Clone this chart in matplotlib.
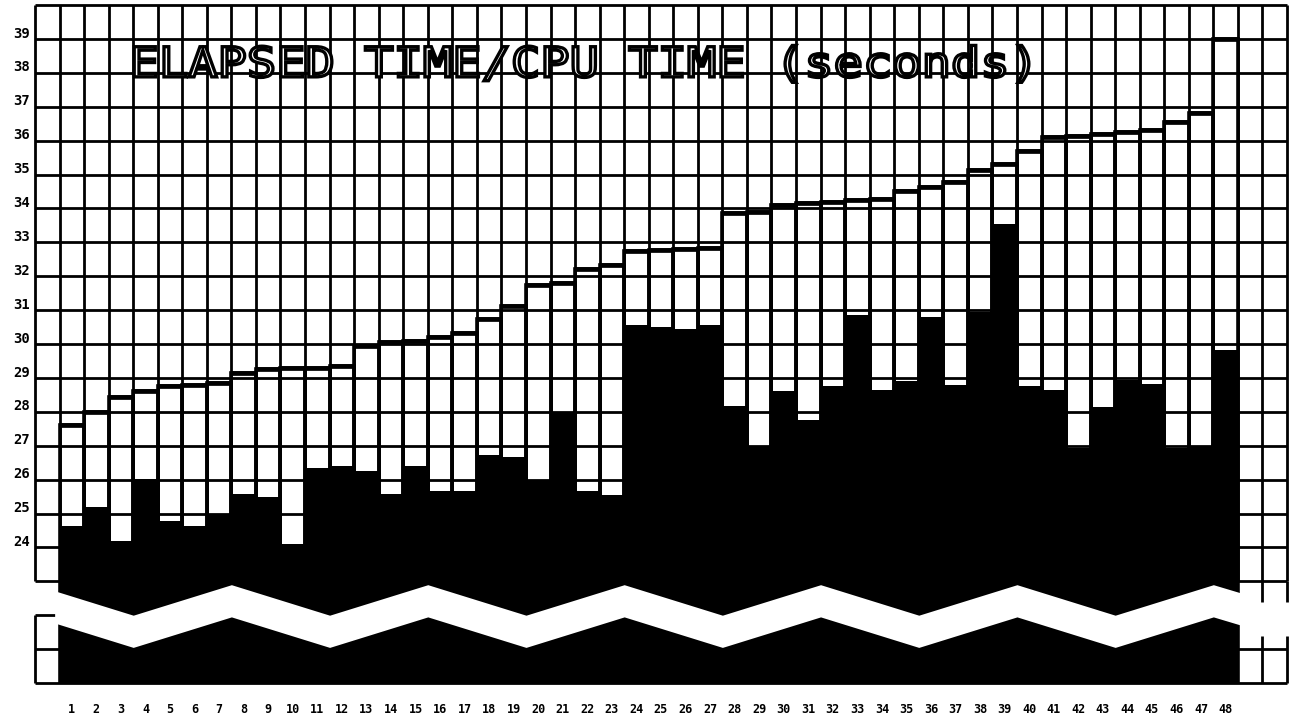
import numpy as np
import matplotlib
matplotlib.use("Agg")
import matplotlib.pyplot as plt
from matplotlib.textpath import TextPath
from matplotlib.patches import PathPatch
from matplotlib.font_manager import FontProperties
from matplotlib.transforms import Affine2D

# run number 1..48
runs = list(range(1, 49))

# elapsed time (top of each outlined bar), seconds
elapsed = [27.6, 28.0, 28.45, 28.6, 28.75, 28.78, 28.85, 29.15, 29.25, 29.28,
           29.3, 29.35, 29.95, 30.05, 30.1, 30.22, 30.33, 30.74, 31.12, 31.75,
           31.8, 32.2, 32.33, 32.75, 32.78, 32.8, 32.83, 33.85, 33.9, 34.1,
           34.15, 34.2, 34.25, 34.27, 34.5, 34.62, 34.77, 35.12, 35.3, 35.68,
           36.1, 36.15, 36.2, 36.25, 36.32, 36.55, 36.8, 39.0]

# cpu time (black fill), seconds
cpu = [24.62, 25.18, 24.18, 26.01, 24.77, 24.62, 25.0, 25.57, 25.5, 24.09,
       26.33, 26.4, 26.25, 25.57, 26.4, 25.65, 25.65, 26.72, 26.68, 25.95,
       27.96, 25.65, 25.55, 30.55, 30.5, 30.43, 30.55, 28.17, 27.0, 28.6,
       27.76, 28.77, 30.86, 28.64, 28.9, 30.8, 28.8, 30.95, 33.55, 28.76,
       28.64, 26.92, 28.15, 28.94, 28.82, 26.92, 27.0, 29.83]

ytick_vals = list(range(24, 40))
title = 'ELAPSED TIME/CPU TIME (seconds)'

x = np.array(runs)
base = 20

fig = plt.figure(figsize=(12.9, 7.25), dpi=100)
ax = fig.add_axes([35/1290, 1-683/725, 1252/1290, 678/725])
ax.set_xlim(-0.5, 50.5)
ax.set_ylim(20, 40)
ax.axis('off')

glw = 2.0
# horizontal grid lines (upper part)
ax.hlines(list(range(23, 41)), -0.5, 50.5, color='black', lw=glw, zorder=1, clip_on=False)
# lower part of the side columns (below the break)
ax.hlines([22, 21], -0.5, 0.5, color='black', lw=glw, zorder=1, clip_on=False)
ax.hlines([21], 48.5, 50.5, color='black', lw=glw, zorder=1, clip_on=False)
ax.hlines([20], -0.5, 50.5, color='black', lw=glw, zorder=1, clip_on=False)
# vertical grid lines
ax.vlines(np.arange(-0.5, 51), 23, 40, color='black', lw=glw, zorder=1, clip_on=False)
ax.vlines([-0.5], 20, 22, color='black', lw=glw, zorder=1, clip_on=False)
ax.vlines([49.5, 50.5], 22.4, 23, color='black', lw=glw, zorder=1, clip_on=False)
ax.vlines([49.5, 50.5], 20, 21.4, color='black', lw=glw, zorder=1, clip_on=False)

# cpu time: solid black
ax.bar(x, np.array(cpu) - base, bottom=base, width=1.0, color='black', lw=0, zorder=3)
# elapsed time: outlined bars with heavy tops
ax.bar(x, np.array(elapsed) - base, bottom=base, width=1.0, fill=False,
       edgecolor='black', lw=2.6, zorder=4)
ax.hlines(elapsed, x - 0.5, x + 0.5, color='black', lw=3.4, zorder=4)

# zigzag break band
zx = np.array([0.3, 3.5, 7.5, 11.5, 15.5, 19.5, 23.5, 27.5, 31.5, 35.5, 39.5, 43.5, 47.5, 48.7])
zy = np.array([22.72, 22.0, 22.9, 22.0, 22.9, 22.0, 22.9, 22.0, 22.9, 22.0, 22.9, 22.0, 22.9, 22.64])
ax.fill_between(zx, zy, zy - 0.95, color='white', lw=0, zorder=6)

# y labels
for v in ytick_vals:
    ax.text(-0.7, v + 0.04, str(v), ha='right', va='baseline', fontsize=10,
            fontweight='bold', family='DejaVu Sans Mono', clip_on=False)

# x labels
for r in runs:
    ax.text(r, 19.23, str(r), ha='center', va='center', fontsize=8.5,
            fontweight='bold', family='DejaVu Sans Mono', clip_on=False)

# title as outlined, slightly stretched lettering
tp = TextPath((0, 0), title, size=1, prop=FontProperties(family='DejaVu Sans Mono'))
tr = Affine2D().scale(1.985, 1.22).translate(3.35, 37.88) + ax.transData
ax.add_patch(PathPatch(tp, facecolor='white', edgecolor='black', lw=2.4,
                       transform=tr, zorder=7, clip_on=False))

plt.savefig('out.png', dpi=100)
